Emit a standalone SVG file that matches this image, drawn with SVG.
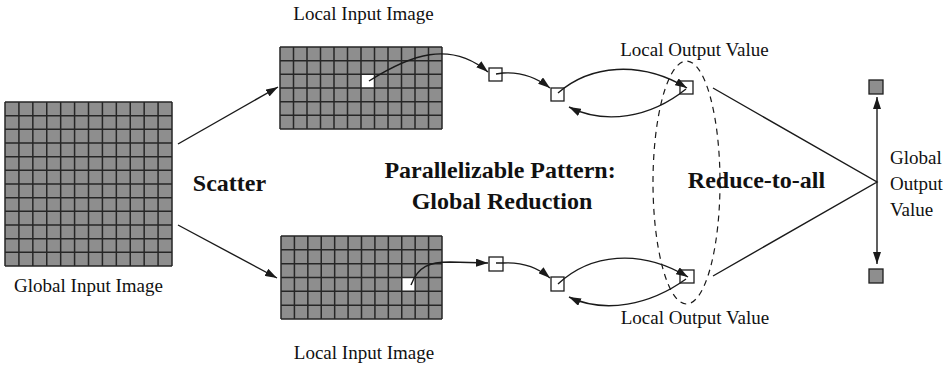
<svg xmlns="http://www.w3.org/2000/svg" width="948" height="365" viewBox="0 0 948 365">
  <style>
    .lbl { font-family: "Liberation Serif", "Times New Roman", serif; font-size: 19px; fill: #111; }
    .big { font-family: "Liberation Serif", "Times New Roman", serif; font-size: 24px; font-weight: bold; fill: #111; }
    .cells { fill: #8e8e8e; }
    .gridline { fill: none; stroke: #262626; stroke-width: 1.5; }
    .hole { fill: #ffffff; stroke: none; }
    .box { fill: #ffffff; stroke: #1e1e1e; stroke-width: 1.3; }
    .gbox { fill: #8e8e8e; stroke: #1e1e1e; stroke-width: 1.3; }
    .wire { fill: none; stroke: #1a1a1a; stroke-width: 1.4; }
    .arrow { fill: none; stroke: #1a1a1a; stroke-width: 1.4; marker-end: url(#head); }
    .dash { fill: none; stroke: #1a1a1a; stroke-width: 1.2; stroke-dasharray: 6 5; }
  </style>
  <defs>
    <marker id="head" viewBox="0 0 12 8" refX="12" refY="4" markerWidth="12" markerHeight="8" markerUnits="userSpaceOnUse" orient="auto-start-reverse">
      <path d="M0,0 L12,4 L0,8 Z" fill="#1a1a1a"/>
    </marker>
  </defs>

  <!-- 12 x 12 global image -->
  <g id="global-input">
    <rect class="cells" x="5" y="102" width="167" height="164"/>
    <path class="gridline" d="M5,102V266M18.92,102V266M32.83,102V266M46.75,102V266M60.67,102V266M74.58,102V266M88.5,102V266M102.42,102V266M116.33,102V266M130.25,102V266M144.17,102V266M158.08,102V266M172,102V266
      M5,102H172M5,115.67H172M5,129.33H172M5,143H172M5,156.67H172M5,170.33H172M5,184H172M5,197.67H172M5,211.33H172M5,225H172M5,238.67H172M5,252.33H172M5,266H172"/>
    <text class="lbl" x="88.5" y="292" text-anchor="middle">Global Input Image</text>
  </g>

  <!-- upper 12 x 6 local image -->
  <g id="local-input-top">
    <rect class="cells" x="280" y="47" width="162" height="82"/>
    <rect class="hole" x="361" y="74.33" width="13.5" height="13.67"/>
    <path class="gridline" d="M280,47V129M293.5,47V129M307,47V129M320.5,47V129M334,47V129M347.5,47V129M361,47V129M374.5,47V129M388,47V129M401.5,47V129M415,47V129M428.5,47V129M442,47V129
      M280,47H442M280,60.67H442M280,74.33H442M280,88H442M280,101.67H442M280,115.33H442M280,129H442"/>
    <text class="lbl" x="363.5" y="20" text-anchor="middle">Local Input Image</text>
  </g>

  <!-- lower 12 x 6 local image -->
  <g id="local-input-bottom">
    <rect class="cells" x="281" y="236" width="161" height="83"/>
    <rect class="hole" x="401.75" y="277.5" width="13.42" height="13.83"/>
    <path class="gridline" d="M281,236V319M294.42,236V319M307.83,236V319M321.25,236V319M334.67,236V319M348.08,236V319M361.5,236V319M374.92,236V319M388.33,236V319M401.75,236V319M415.17,236V319M428.58,236V319M442,236V319
      M281,236H442M281,249.83H442M281,263.67H442M281,277.5H442M281,291.33H442M281,305.17H442M281,319H442"/>
    <text class="lbl" x="364" y="359" text-anchor="middle">Local Input Image</text>
  </g>

  <!-- single-pixel values -->
  <g id="pixel-top"><rect class="box" x="489" y="68" width="13" height="13"/></g>
  <g id="partial-top"><rect class="box" x="551" y="88" width="13" height="13"/></g>
  <g id="local-output-top">
    <rect class="box" x="680" y="81" width="13" height="13"/>
    <text class="lbl" x="694.5" y="56" text-anchor="middle">Local Output Value</text>
  </g>
  <g id="pixel-bottom"><rect class="box" x="489" y="257" width="14" height="14"/></g>
  <g id="partial-bottom"><rect class="box" x="551" y="277" width="13" height="14"/></g>
  <g id="local-output-bottom">
    <rect class="box" x="680" y="270" width="14" height="13"/>
    <text class="lbl" x="695" y="324" text-anchor="middle">Local Output Value</text>
  </g>

  <!-- result copies -->
  <g id="global-output">
    <rect class="gbox" x="869" y="80" width="14" height="14"/>
    <rect class="gbox" x="869" y="269" width="14" height="14"/>
    <text class="lbl" x="890" y="164">Global</text>
    <text class="lbl" x="890" y="190">Output</text>
    <text class="lbl" x="890" y="216">Value</text>
  </g>

  <!-- reduce-to-all group outline -->
  <g id="reduce-group">
    <ellipse class="dash" cx="686.5" cy="182.5" rx="33.5" ry="121.5"/>
  </g>

  <!-- titles -->
  <g id="titles">
    <text class="big" x="229.5" y="191" text-anchor="middle">Scatter</text>
    <text class="big" x="500" y="178" text-anchor="middle">Parallelizable Pattern:</text>
    <text class="big" x="502" y="209" text-anchor="middle">Global Reduction</text>
    <text class="big" x="756.5" y="188" text-anchor="middle">Reduce-to-all</text>
  </g>

  <!-- connectors -->
  <g id="connectors">
    <path class="arrow" d="M178,144 L278,87"/>
    <path class="arrow" d="M178,225 L277,278"/>

    <path class="arrow" d="M369,81 C410,55 450,40 488,72"/>
    <path class="arrow" d="M411,285 C418,266 430,262 450,262 L488,263"/>

    <path class="arrow" d="M496,74 L503,73 C520,72 536,77 550,88"/>
    <path class="arrow" d="M496,263 L503,263 C520,262 536,266 550,278"/>

    <path class="arrow" d="M558,93 C590,65 640,60 687,88"/>
    <path class="arrow" d="M686,89 C650,118 605,125 569,107"/>
    <path class="arrow" d="M558,284 C590,254 640,248 688,277"/>
    <path class="arrow" d="M686,279 C650,305 605,314 569,297"/>

    <path class="wire" d="M713,88 L877,182 L713,276"/>
    <path class="arrow" d="M877,182 L877,97" />
    <path class="arrow" d="M877,182 L877,264" />
  </g>
</svg>
